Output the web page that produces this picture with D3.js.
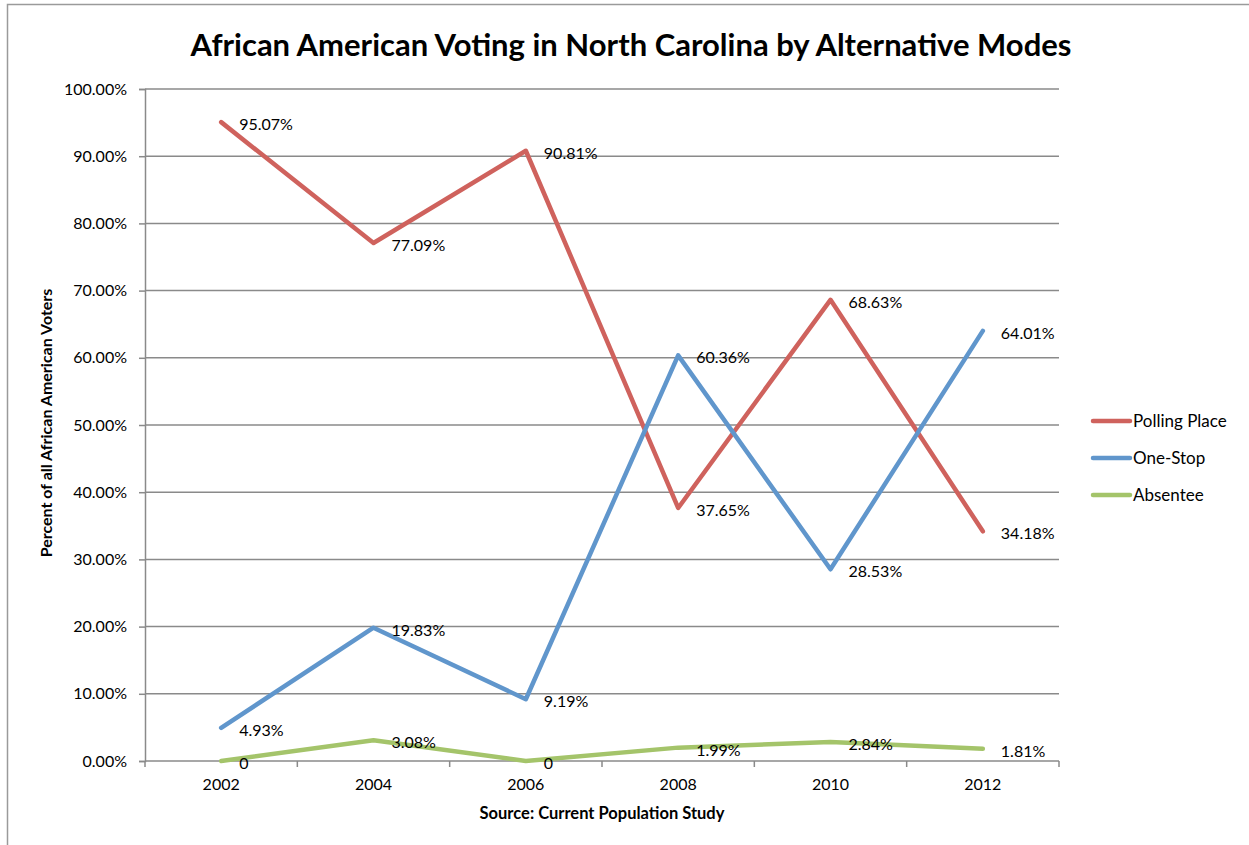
<!DOCTYPE html>
<html>
<head>
<meta charset="utf-8">
<script src="https://cdn.jsdelivr.net/npm/d3@7"></script>
<style>
  body { margin: 0; background: #fff; }
  text { font-family: Lato, "Open Sans", sans-serif; fill: #000; }
</style>
</head>
<body>
<div id="canvas"></div>
<script>
const years = ["2002", "2004", "2006", "2008", "2010", "2012"];
const pollingPlace = [95.07, 77.09, 90.81, 37.65, 68.63, 34.18];
const oneStop = [4.93, 19.83, 9.19, 60.36, 28.53, 64.01];
const absentee = [0, 3.08, 0, 1.99, 2.84, 1.81];
const labelsPolling = ["95.07%", "77.09%", "90.81%", "37.65%", "68.63%", "34.18%"];
const labelsOneStop = ["4.93%", "19.83%", "9.19%", "60.36%", "28.53%", "64.01%"];
const labelsAbsentee = ["0", "3.08%", "0", "1.99%", "2.84%", "1.81%"];
const yTicks = [0, 10, 20, 30, 40, 50, 60, 70, 80, 90, 100];

const series = [
    { name: "Polling Place", values: pollingPlace, labels: labelsPolling, color: "#cf625d" },
    { name: "One-Stop", values: oneStop, labels: labelsOneStop, color: "#6096cc" },
    { name: "Absentee", values: absentee, labels: labelsAbsentee, color: "#a4c46a" }
];

const width = 1249;
const height = 845;
const margin = { top: 89, left: 145, bottom: 84, right: 190 };
const iwidth = width - margin.left - margin.right;
const iheight = height - margin.top - margin.bottom;

const svg = d3.select("#canvas").append("svg")
    .attr("width", width)
    .attr("height", height);

// outer frame
svg.append("path")
    .attr("d", `M7.5,${height} V4.5 H${width}`)
    .attr("fill", "none")
    .attr("stroke", "#9a9a9a")
    .attr("stroke-width", 1.5);

svg.append("text")
    .attr("x", 631)
    .attr("y", 56)
    .attr("text-anchor", "middle")
    .style("font-size", "31px")
    .style("font-weight", "bold")
    .text("African American Voting in North Carolina by Alternative Modes");

const g = svg.append("g")
    .attr("transform", `translate(${margin.left},${margin.top})`);

const x = d3.scaleBand().domain(years).range([0, iwidth]);
const y = d3.scaleLinear().domain([0, 100]).range([iheight, 0]);

// gridlines
g.append("g")
    .selectAll("line")
    .data(yTicks.slice(1))
    .join("line")
    .attr("x1", 0)
    .attr("x2", iwidth)
    .attr("y1", (d) => y(d))
    .attr("y2", (d) => y(d))
    .attr("stroke", "#8a8a8a")
    .attr("stroke-width", 1.5);

const yAxis = g.append("g")
    .call(d3.axisLeft(y).tickValues(yTicks).tickFormat((d) => d.toFixed(2) + "%").tickSize(6).tickPadding(12));
const xAxis = g.append("g")
    .attr("transform", `translate(0,${iheight})`)
    .call(d3.axisBottom(x).tickSize(0).tickPadding(18));

// x ticks at band boundaries
g.append("g")
    .selectAll("line")
    .data(d3.range(years.length + 1))
    .join("line")
    .attr("x1", (i) => i * x.step())
    .attr("x2", (i) => i * x.step())
    .attr("y1", iheight)
    .attr("y2", iheight + 6)
    .attr("stroke", "#8a8a8a")
    .attr("stroke-width", 1.5);

[yAxis, xAxis].forEach((a) => {
    a.select(".domain").attr("stroke", "#8a8a8a").attr("stroke-width", 1.5);
    a.selectAll(".tick line").attr("stroke", "#8a8a8a").attr("stroke-width", 1.5);
    a.selectAll(".tick text").style("font-size", "16px").style("font-family", "Lato, 'Open Sans', sans-serif").attr("fill", "#000");
});
xAxis.select(".domain").attr("d", `M0,0H${iwidth}`);

const line = d3.line()
    .x((d, i) => x(years[i]) + x.bandwidth() / 2)
    .y((d) => y(d));

series.forEach((s) => {
    g.append("path")
        .datum(s.values)
        .attr("fill", "none")
        .attr("stroke", s.color)
        .attr("stroke-width", 4.5)
        .attr("stroke-linecap", "round")
        .attr("stroke-linejoin", "round")
        .attr("d", line);

    g.append("g")
        .selectAll("text")
        .data(s.values)
        .join("text")
        .attr("x", (d, i) => x(years[i]) + x.bandwidth() / 2 + 18)
        .attr("y", (d) => y(d) + 8)
        .style("font-size", "16px")
        .text((d, i) => s.labels[i]);
});

// axis titles
svg.append("text")
    .attr("x", margin.left + iwidth / 2)
    .attr("y", 819)
    .attr("text-anchor", "middle")
    .style("font-size", "16.5px")
    .style("font-weight", "bold")
    .text("Source: Current Population Study");

svg.append("text")
    .attr("transform", `translate(52,${margin.top + iheight / 2 - 2}) rotate(-90)`)
    .attr("text-anchor", "middle")
    .style("font-size", "16px")
    .style("font-weight", "bold")
    .text("Percent of all African American Voters");

// legend
const legend = svg.append("g")
    .attr("transform", "translate(1093,421)");
series.forEach((s, i) => {
    const row = legend.append("g").attr("transform", `translate(0,${i * 37})`);
    row.append("line")
        .attr("x1", 0).attr("x2", 37)
        .attr("stroke", s.color)
        .attr("stroke-width", 4.5)
        .attr("stroke-linecap", "round");
    row.append("text")
        .attr("x", 40)
        .attr("y", 6)
        .style("font-size", "17px")
        .text(s.name);
});
</script>
</body>
</html>
